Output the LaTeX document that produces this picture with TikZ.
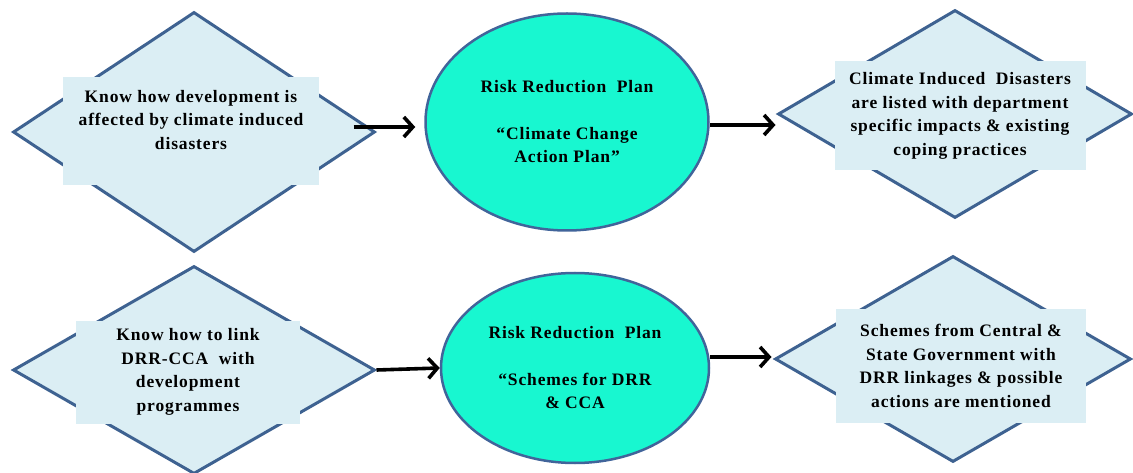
\documentclass[tikz,border=0pt]{standalone}
\usepackage{fontspec}
\usepackage{tikz}
\usetikzlibrary{arrows.meta,positioning,calc,shapes.geometric}
\newfontfamily\boxfont{Liberation Serif}[LetterSpace=5]
\definecolor{diafill}{HTML}{DBEEF4}
\definecolor{diaedge}{HTML}{3E6291}
\definecolor{planc}{HTML}{18F7D0}
\definecolor{planedge}{HTML}{41649A}
\tikzset{
  dia/.style={draw=diaedge, fill=diafill, diamond, line width=3pt, inner sep=0pt},
  panel/.style={fill=diafill, inner sep=0pt, align=center, font=\boxfont\bfseries\fontsize{17.5}{23.5}\selectfont},
  plan/.style={draw=planedge, fill=planc, ellipse, line width=2.5pt, inner sep=0pt, align=center, font=\boxfont\bfseries\fontsize{17.5}{23.5}\selectfont},
  arr/.style={-{Straight Barb[length=9pt,width=20pt]}, line width=3.6pt},
}
\begin{document}
\begin{tikzpicture}[x=1pt,y=-1pt]
  \useasboundingbox (0,0) rectangle (1133,473);
  \node[dia, minimum width=362pt, minimum height=240pt] (inA) at (194,132) {};
  \node[panel, minimum width=256pt, minimum height=108pt, text depth=23pt] (inAtxt) at (191,131) {Know how development is\\affected by climate induced\\disasters};
  \node[plan, minimum width=283pt, minimum height=217pt] (planA) at (567,122) {Risk Reduction\ \ Plan\\[23pt]“Climate Change\\Action Plan”};
  \node[dia, minimum width=354pt, minimum height=208pt] (outA) at (955,114) {};
  \node[panel, minimum width=251pt, minimum height=109pt] (outAtxt) at (960,116) {Climate Induced\ \ Disasters\\are listed with department\\specific impacts \& existing\\coping practices};
  \node[dia, minimum width=362pt, minimum height=208pt] (inB) at (194,370) {};
  \node[panel, minimum width=224pt, minimum height=103pt] (inBtxt) at (188,372) {Know how to link\\DRR-CCA\ \ with\\development\\programmes};
  \node[plan, minimum width=268pt, minimum height=190pt] (planB) at (575,368) {Risk Reduction\ \ Plan\\[23pt]“Schemes for DRR\\\& CCA};
  \node[dia, minimum width=356pt, minimum height=206pt] (outB) at (953,359) {};
  \node[panel, minimum width=250pt, minimum height=114pt] (outBtxt) at (961,366) {Schemes from Central \&\\State Government with\\DRR linkages \& possible\\actions are mentioned};
  \draw[arr] ($(inA.east)+(-23,-5)$) -- ($(inA.east -| planA.west)+(-9,-5)$);
  \draw[arr] ($(planA.east)+(0,3)$) -- ($(planA.east -| outA.west)+(-1,3)$);
  \draw[arr] (inB.east) -- (planB.west);
  \draw[arr] ($(planB.east)+(0,-11)$) -- ($(planB.east -| outB.west)+(-2,-11)$);
\end{tikzpicture}
\end{document}
